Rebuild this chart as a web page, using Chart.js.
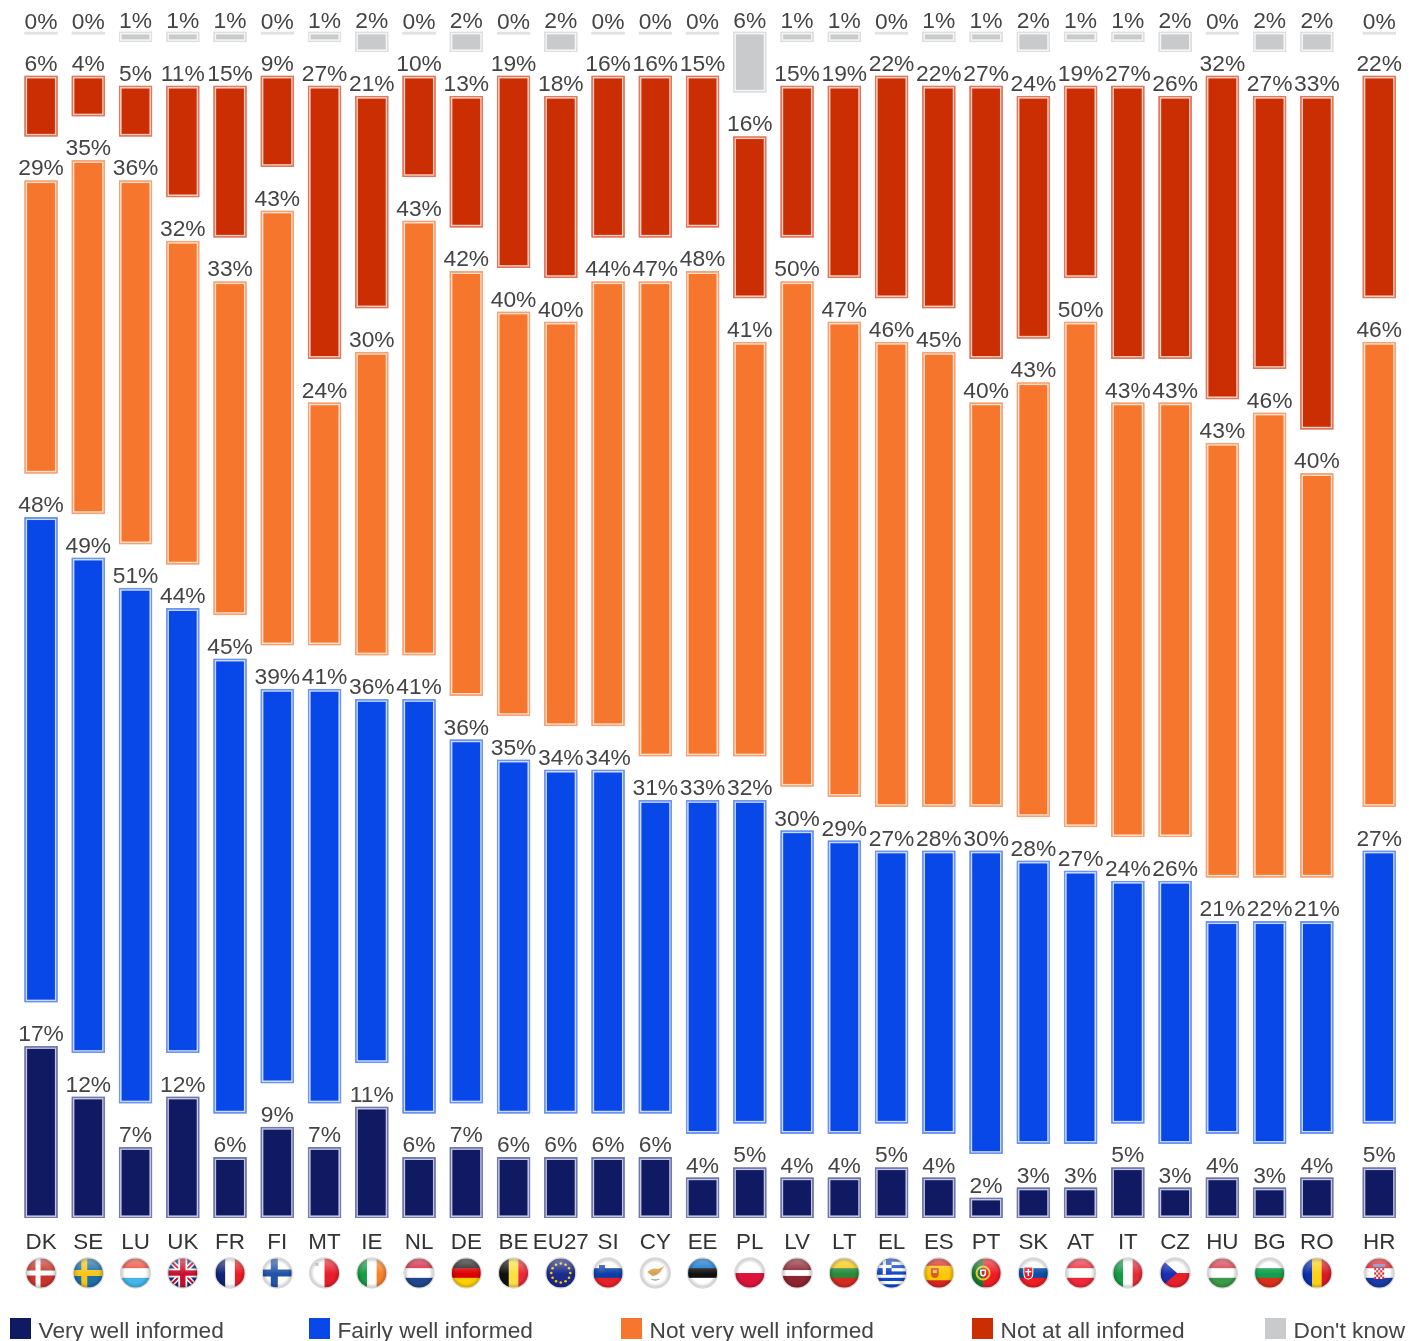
<!DOCTYPE html>
<html>
<head>
<meta charset="utf-8">
<title>Informed</title>
<script src="https://cdn.jsdelivr.net/npm/chart.js@4"></script>
<style>
html,body{margin:0;padding:0;background:#fff;width:1409px;height:1341px;overflow:hidden}
canvas{display:block;filter:blur(0.55px)}
</style>
</head>
<body>
<canvas id="c" width="1409" height="1341"></canvas>
<script>
const categories = ['DK','SE','LU','UK','FR','FI','MT','IE','NL','DE','BE','EU27','SI','CY','EE','PL','LV','LT','EL','ES','PT','SK','AT','IT','CZ','HU','BG','RO','HR'];
const veryWell = [17,12,7,12,6,9,7,11,6,7,6,6,6,6,4,5,4,4,5,4,2,3,3,5,3,4,3,4,5];
const fairlyWell = [48,49,51,44,45,39,41,36,41,36,35,34,34,31,33,32,30,29,27,28,30,28,27,24,26,21,22,21,27];
const notVery = [29,35,36,32,33,43,24,30,43,42,40,40,44,47,48,41,50,47,46,45,40,43,50,43,43,43,46,40,46];
const notAtAll = [6,4,5,11,15,9,27,21,10,13,19,18,16,16,15,16,15,19,22,22,27,24,19,27,26,32,27,33,22];
const dontKnow = [0,0,1,1,1,0,1,2,0,2,0,2,0,0,0,6,1,1,0,1,1,2,1,1,2,0,2,2,0];
const seriesNames = ['Very well informed','Fairly well informed','Not very well informed','Not at all informed',"Don't know"];
const seriesValues = [veryWell, fairlyWell, notVery, notAtAll, dontKnow];
const fillColors = ['#0f1a63','#0847e8','#f5762c','#cc2e03','#c9cacc'];
const outerColors = ['#767cb0','#6f97f3','#f8a476','#e27a60','#dedfe0'];
const innerColors = ['#c3c6de','#cbdafb','#fddcc8','#f6cdc0','#f6f6f7'];

const SEGMENT_GAP = 4.36;      // value units between two segments of a column
const HR_EXTRA = 0.32;         // HR stands a little apart from the EU27 group
const ZERO_LINE = 0.25;        // a 0% answer still shows as a thin pale line
const xOf = i => i === categories.length - 1 ? i + HR_EXTRA : i;

function floats(col){
  let base = 0, out = [];
  seriesValues.forEach(s => {
    const v = s[col];
    out.push([v === 0 ? base - ZERO_LINE : base, base + v]);
    base += v + SEGMENT_GAP;
  });
  return out;
}
const datasets = seriesNames.map((name, k) => ({
  label: name,
  data: categories.map((_, i) => ({x: xOf(i), y: floats(i)[k]})),
  backgroundColor: categories.map((_, i) => seriesValues[k][i] === 0 ? '#e3e3e3' : fillColors[k]),
  borderColor: outerColors[k],
  borderWidth: 1,
  borderSkipped: false,
  barThickness: 33,
  grouped: false
}));

/* ---------- flags ---------- */
const H = (ctx, r, cols, w) => { const W = w || cols.map(()=>1); const t = W.reduce((a,b)=>a+b); let y=-r;
  cols.forEach((c,i)=>{ const h=2*r*W[i]/t; ctx.fillStyle=c; ctx.fillRect(-r,y,2*r,h+0.5); y+=h; }); };
const V = (ctx, r, cols, w) => { const W = w || cols.map(()=>1); const t = W.reduce((a,b)=>a+b); let x=-r;
  cols.forEach((c,i)=>{ const h=2*r*W[i]/t; ctx.fillStyle=c; ctx.fillRect(x,-r,h+0.5,2*r); x+=h; }); };
const cross = (ctx, r, bg, fg, off, th) => { ctx.fillStyle=bg; ctx.fillRect(-r,-r,2*r,2*r); ctx.fillStyle=fg;
  ctx.fillRect(-r,-th/2,2*r,th); ctx.fillRect(off-th/2,-r,th,2*r); };
const shield = (ctx,x,y,w,h,c) => { ctx.fillStyle=c; ctx.beginPath(); ctx.moveTo(x-w/2,y-h/2); ctx.lineTo(x+w/2,y-h/2); ctx.lineTo(x+w/2,y); ctx.quadraticCurveTo(x+w/2,y+h/2,x,y+h/2); ctx.quadraticCurveTo(x-w/2,y+h/2,x-w/2,y); ctx.closePath(); ctx.fill(); };
const flags = {
  DK:(c,r)=>cross(c,r,'#c8352b','#fff',-3,5),
  SE:(c,r)=>cross(c,r,'#1d6ea8','#f6c51c',-4,6),
  LU:(c,r)=>H(c,r,['#ee4a3c','#fff','#45b5ea']),
  UK:(c,r)=>{c.fillStyle='#1f2c78';c.fillRect(-r,-r,2*r,2*r);
    c.strokeStyle='#fff';c.lineWidth=5;c.beginPath();c.moveTo(-r,-r);c.lineTo(r,r);c.moveTo(r,-r);c.lineTo(-r,r);c.stroke();
    c.strokeStyle='#c8102e';c.lineWidth=2;c.stroke();
    c.fillStyle='#fff';c.fillRect(-r,-4.5,2*r,9);c.fillRect(-4.5,-r,9,2*r);
    c.fillStyle='#c8102e';c.fillRect(-r,-2.7,2*r,5.4);c.fillRect(-2.7,-r,5.4,2*r);},
  FR:(c,r)=>V(c,r,['#10247a','#fff','#ed1c24']),
  FI:(c,r)=>cross(c,r,'#fff','#2352a6',-3,7),
  MT:(c,r)=>{V(c,r,['#fff','#e81c2a']);c.fillStyle='#c9b7b7';c.fillRect(-9,-10,3,3);},
  IE:(c,r)=>V(c,r,['#169b45','#fff','#f5822a']),
  NL:(c,r)=>H(c,r,['#cf2340','#fff','#21468b']),
  DE:(c,r)=>H(c,r,['#222','#dd0000','#ffce00']),
  BE:(c,r)=>V(c,r,['#111','#fae042','#ed2939']),
  EU27:(c,r)=>{c.fillStyle='#1c2a8c';c.fillRect(-r,-r,2*r,2*r);c.fillStyle='#f5d000';
    for(let a=0;a<12;a++){c.beginPath();c.arc(9.5*Math.cos(a*Math.PI/6),9.5*Math.sin(a*Math.PI/6),1.3,0,7);c.fill();}},
  SI:(c,r)=>{H(c,r,['#fff','#0b3fa8','#e8202a']);shield(c,-6,-4,6,8,'#1c4aa8');},
  CY:(c,r)=>{c.fillStyle='#fff';c.fillRect(-r,-r,2*r,2*r);c.fillStyle='#d8a24e';c.beginPath();c.moveTo(-8,-1);c.quadraticCurveTo(-3,-6,3,-4);c.lineTo(9,-7);c.lineTo(5,-1);c.quadraticCurveTo(1,3,-3,3);c.closePath();c.fill();
    c.strokeStyle='#8ab38a';c.lineWidth=1.3;c.beginPath();c.moveTo(-4,6);c.quadraticCurveTo(-2,7,0,7);c.moveTo(4,6);c.quadraticCurveTo(2,7,0,7);c.stroke();},
  EE:(c,r)=>H(c,r,['#0b72ce','#111','#fff']),
  PL:(c,r)=>H(c,r,['#fff','#dc143c']),
  LV:(c,r)=>H(c,r,['#8c2432','#fff','#8c2432'],[2,1,2]),
  LT:(c,r)=>H(c,r,['#f7c80f','#2a8a3c','#d42a22']),
  EL:(c,r)=>{const s=[];for(let i=0;i<9;i++)s.push(i%2?'#fff':'#1048c8');H(c,r,s);c.fillStyle='#1048c8';c.fillRect(-r,-r,r*1.0,r*1.1);c.fillStyle='#fff';c.fillRect(-r,-r+r*.44,r,r*.22);c.fillRect(-r+r*.39,-r,r*.22,r*1.1);},
  ES:(c,r)=>{H(c,r,['#d7261e','#fcc600','#d7261e'],[1,2,1]);shield(c,-4,0,8,10,'#d0602a');c.fillStyle='#f0c050';c.fillRect(-6,-3,4,3);},
  PT:(c,r)=>{V(c,r,['#1a7a30','#ee1c25'],[2,3]);c.strokeStyle='#e8c83a';c.lineWidth=2;c.beginPath();c.arc(-3,0,6.5,0,7);c.stroke();shield(c,-3,0,6,7,'#fff');shield(c,-3,0,3,4,'#c8242a');},
  SK:(c,r)=>{H(c,r,['#fff','#0b4ea2','#ee1c25']);shield(c,-5,0,10,13,'#fff');shield(c,-5,0,8,11,'#e01a24');c.fillStyle='#fff';c.fillRect(-5.8,-4,1.6,7);c.fillRect(-8,-2,6,1.3);},
  AT:(c,r)=>H(c,r,['#ed2939','#fff','#ed2939']),
  IT:(c,r)=>V(c,r,['#169b45','#fff','#e52b37']),
  CZ:(c,r)=>{H(c,r,['#fff','#e8202a']);c.fillStyle='#1a2fb0';c.beginPath();c.moveTo(-r,-r);c.lineTo(2,0);c.lineTo(-r,r);c.closePath();c.fill();},
  HU:(c,r)=>H(c,r,['#d83b4a','#fff','#3a9a48']),
  BG:(c,r)=>H(c,r,['#fff','#12a050','#d8301c']),
  RO:(c,r)=>V(c,r,['#0b2fae','#fcd116','#d81a26']),
  HR:(c,r)=>{H(c,r,['#e0202a','#fff','#1a3aa8']);c.fillStyle='#fff';c.fillRect(-5,-5,10,11);c.fillStyle='#d8202a';
    for(let i=0;i<5;i++)for(let j=0;j<5;j++)if((i+j)%2==0)c.fillRect(-5+i*2,-5+j*2.2,2,2.2);
    c.fillStyle='#7088c8';c.fillRect(-6,-9,12,3);}
};

const flagPlugin = {
  id:'flags',
  afterDraw(chart){
    const {ctx, scales:{x}} = chart, R = 14.5, Y = 1273;
    categories.forEach((name,i)=>{
      const cx = x.getPixelForValue(xOf(i));
      ctx.save(); ctx.translate(cx, Y);
      ctx.beginPath(); ctx.arc(0,0,R+1.2,0,7); ctx.fillStyle='#d9d9d9'; ctx.fill();
      ctx.beginPath(); ctx.arc(0,0,R,0,7); ctx.clip();
      flags[name](ctx,R);
      let g = ctx.createLinearGradient(0,-R,0,1);
      g.addColorStop(0,'rgba(255,255,255,.42)'); g.addColorStop(1,'rgba(255,255,255,0)');
      ctx.fillStyle=g; ctx.fillRect(-R,-R,2*R,R+1);
      g = ctx.createRadialGradient(0,0,R*.72,0,0,R);
      g.addColorStop(0,'rgba(0,0,0,0)'); g.addColorStop(1,'rgba(0,0,0,.2)');
      ctx.fillStyle=g; ctx.fillRect(-R,-R,2*R,2*R);
      ctx.restore();
    });
  }
};

const barDeco = {
  id:'barDeco',
  afterDatasetsDraw(chart){
    const ctx = chart.ctx;
    chart.data.datasets.forEach((ds,k)=>{
      chart.getDatasetMeta(k).data.forEach((bar,i)=>{
        const p = bar.getProps(['x','y','base','width']);
        const top = Math.min(p.y,p.base), bot = Math.max(p.y,p.base), l = p.x-p.width/2;
        const v = seriesValues[k][i];
        ctx.save();
        if (v > 0) {
          ctx.strokeStyle = innerColors[k]; ctx.lineWidth = 1.6;
          ctx.strokeRect(l+1.8, top+1.8, p.width-3.6, Math.max(bot-top-3.6,0.5));
          ctx.strokeStyle = outerColors[k]; ctx.lineWidth = 1;
          ctx.strokeRect(l+0.5, top+0.5, p.width-1, Math.max(bot-top-1,0.5));
        }
        ctx.fillStyle = '#444'; ctx.font = '22.8px "Liberation Sans", Arial, sans-serif';
        ctx.textAlign='center'; ctx.textBaseline='alphabetic';
        ctx.fillText(v+'%', p.x, top-(k===4?(v===0?3:4):5));
        ctx.restore();
      });
    });
  }
};

const legendX = [10,309,621,972,1265];
const legendPlugin = {
  id:'sideLegend',
  afterDraw(chart){
    const ctx = chart.ctx;
    seriesNames.forEach((name,k)=>{
      ctx.fillStyle = fillColors[k];
      ctx.fillRect(legendX[k],1318,21,21);
      ctx.fillStyle = '#444'; ctx.font='22.7px "Liberation Sans", Arial, sans-serif';
      ctx.textAlign='left'; ctx.textBaseline='alphabetic';
      ctx.fillText(name, legendX[k]+28.5, 1337.5);
    });
  }
};

new Chart(document.getElementById('c'),{
  type:'bar',
  data:{datasets},
  options:{
    responsive:false, animation:false, devicePixelRatio:1,
    layout:{padding:0},
    plugins:{legend:{display:false},tooltip:{enabled:false},title:{display:false}},
    scales:{
      x:{type:'linear',offset:false,min:-0.868,max:28.95,
        grid:{display:false,offset:false},border:{display:false},
        afterBuildTicks(s){ s.ticks = categories.map((_,i)=>({value:xOf(i)})); },
        afterFit(s){ s.height = 123; s.paddingLeft = 0; s.paddingRight = 0; },
        ticks:{autoSkip:false,maxRotation:0,minRotation:0,padding:3,color:'#333',
          font:{family:'"Liberation Sans", Arial, sans-serif',size:22.4},
          callback(v){ const i = categories.findIndex((_,j)=>Math.abs(xOf(j)-v)<1e-6); return i<0?'':categories[i]; }}
      },
      y:{display:false,min:0,max:120.59}
    }
  },
  plugins:[barDeco,flagPlugin,legendPlugin]
});
</script>
</body>
</html>
